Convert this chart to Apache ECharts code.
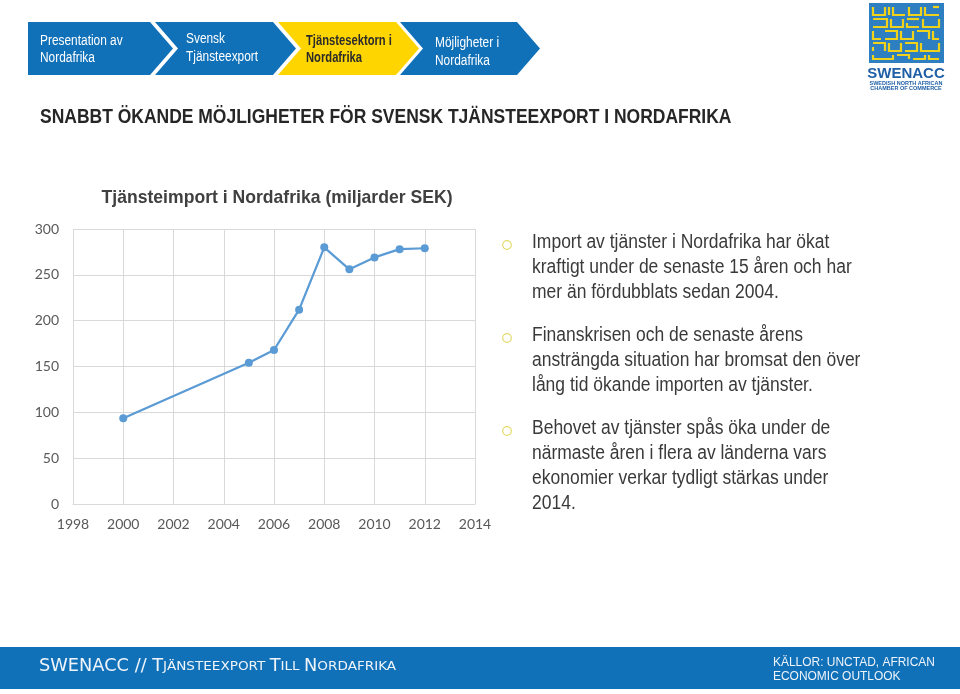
<!DOCTYPE html>
<html>
<head>
<meta charset="utf-8">
<script src="https://cdn.jsdelivr.net/npm/echarts@6/dist/echarts.min.js"></script>
<style>
html,body{margin:0;padding:0;background:#fff;}
#chart{width:960px;height:694px;}
</style>
</head>
<body>
<div id="chart"></div>
<script>
// ---- data ----
const years = [2000, 2005, 2006, 2007, 2008, 2009, 2010, 2011, 2012];
const importValues = [93.5, 154, 168, 212, 280, 256, 269, 278, 279];
const yTicks = [0, 50, 100, 150, 200, 250, 300];
const xTicks = [1998, 2000, 2002, 2004, 2006, 2008, 2010, 2012, 2014];
const chartTitle = 'Tjänsteimport i Nordafrika (miljarder SEK)';
const pageTitle = 'SNABBT ÖKANDE MÖJLIGHETER FÖR SVENSK TJÄNSTEEXPORT I NORDAFRIKA';
const navSteps = [
  ['Presentation av', 'Nordafrika'],
  ['Svensk', 'Tjänsteexport'],
  ['Tjänstesektorn i', 'Nordafrika'],
  ['Möjligheter i', 'Nordafrika']
];
const bullets = [
  ['Import av tjänster i Nordafrika har ökat', 'kraftigt under de senaste 15 åren och har', 'mer än fördubblats sedan 2004.'],
  ['Finanskrisen och de senaste årens', 'ansträngda situation har bromsat den över', 'lång tid ökande importen av tjänster.'],
  ['Behovet av tjänster spås öka under de', 'närmaste åren i flera av länderna vars', 'ekonomier verkar tydligt stärkas under', '2014.']
];
const sourceLines = ['KÄLLOR: UNCTAD, AFRICAN', 'ECONOMIC OUTLOOK'];

const SANS = '"Liberation Sans", Arial, sans-serif';
const BLUE = '#1070b8';
const YELLOW = '#ffd500';

const chart = echarts.init(document.getElementById('chart'), null, {renderer: 'canvas'});

const graphics = [];
function txt(x, y, text, font, fill, sx, align) {
  graphics.push({type: 'text', x: x, y: y, scaleX: sx || 1, silent: true, style: {
    text: text, fill: fill, font: font, textVerticalAlign: 'middle', textAlign: align || 'left'}});
}

// nav chevrons
const chevronDefs = [
  {pts: [[28,22],[150,22],[173,48.5],[150,75],[28,75]], fill: BLUE, tx: 40, ty: [41, 58], color: '#fff', bold: false},
  {pts: [[155,22],[273,22],[296,48.5],[273,75],[155,75],[178,48.5]], fill: BLUE, tx: 186, ty: [39, 57], color: '#fff', bold: false},
  {pts: [[278,22],[396,22],[419,48.5],[396,75],[278,75],[301,48.5]], fill: YELLOW, tx: 306, ty: [41, 58], color: '#2b2b2b', bold: true},
  {pts: [[400,22],[517,22],[540,48.5],[517,75],[400,75],[423,48.5]], fill: BLUE, tx: 435, ty: [43, 61], color: '#fff', bold: false}
];
chevronDefs.forEach((c, i) => {
  graphics.push({type: 'polygon', shape: {points: c.pts}, style: {fill: c.fill}, silent: true});
  navSteps[i].forEach((line, j) => {
    txt(c.tx, c.ty[j], line, (c.bold ? 'bold ' : '') + '14px ' + SANS, c.color, c.bold ? 0.8 : 0.85);
  });
});

// page title
txt(40, 117, pageTitle, 'bold 20px ' + SANS, '#262626', 0.874);

// chart title
txt(277, 198, chartTitle, 'bold 19px ' + SANS, '#404040', 0.926, 'center');

// bullets
const bulletTops = [242, 335, 428];
bullets.forEach((para, i) => {
  graphics.push({type: 'circle', shape: {cx: 507, cy: bulletTops[i] + 3, r: 4.3},
    style: {fill: null, stroke: '#e3da6a', lineWidth: 1.2}, silent: true});
  para.forEach((line, j) => {
    txt(532, bulletTops[i] + j * 25, line, '20px ' + SANS, '#3a3a3a', 0.874);
  });
});

// footer band
graphics.push({type: 'rect', shape: {x: 0, y: 647, width: 960, height: 42}, style: {fill: BLUE}, silent: true});
graphics.push({type: 'text', x: 39, y: 667, scaleX: 1.045, silent: true, style: {
  rich: {
    b: {fontSize: 17, fontFamily: '"DejaVu Sans", sans-serif', fill: '#eef4fa'},
    s: {fontSize: 13, fontFamily: '"DejaVu Sans", sans-serif', fill: '#eef4fa'}
  },
  text: '{b|SWENACC // T}{s|JÄNSTEEXPORT }{b|T}{s|ILL }{b|N}{s|ORDAFRIKA}',
  textVerticalAlign: 'middle', textAlign: 'left'}});
sourceLines.forEach((line, j) => {
  txt(773, 662 + j * 14, line, '13px ' + SANS, '#eef4fa', 0.92);
});

// logo (decorative)
graphics.push({type: 'rect', shape: {x: 869, y: 3, width: 75, height: 60}, style: {fill: '#2d7fc1'}, silent: true});
const kufic = [
  [[873,7],[873,15],[885,15],[885,7]], [[889,7],[889,15]], [[893,7],[893,15],[905,15]], [[909,7],[909,15],[921,15],[921,7]], [[925,7],[925,15],[939,15]], [[933,7],[939,7]],
  [[873,19],[887,19],[887,27],[873,27]], [[891,19],[891,27],[903,27],[903,19]], [[907,19],[919,19]], [[907,23],[907,27],[919,27]], [[923,19],[923,27],[939,27],[939,19]],
  [[873,31],[873,39],[881,39]], [[885,31],[897,31],[897,39],[885,39]], [[901,31],[901,39],[913,39],[913,31]], [[917,31],[929,31],[929,39]], [[933,31],[933,39],[939,39]],
  [[873,43],[885,43],[885,51]], [[873,47],[873,51]], [[889,43],[889,51],[901,51],[901,43]], [[905,43],[917,43],[917,51],[905,51]], [[921,43],[921,51],[939,51],[939,43]],
  [[873,55],[873,59],[893,59],[893,55]], [[897,55],[909,55],[909,59]], [[913,59],[925,59],[925,55]], [[929,55],[929,59],[939,59]]
];
kufic.forEach(p => graphics.push({type: 'polyline', shape: {points: p}, style: {stroke: '#f0d21a', lineWidth: 2.2, fill: null}, silent: true}));
txt(906, 74, 'SWENACC', 'bold 15px ' + SANS, '#1f5fa6', 1, 'center');
txt(906, 83, 'SWEDISH NORTH AFRICAN', 'bold 5.5px ' + SANS, '#1f5fa6', 1, 'center');
txt(906, 88, 'CHAMBER OF COMMERCE', 'bold 5.5px ' + SANS, '#1f5fa6', 1, 'center');

const axisLabelStyle = {color: '#595959', fontSize: 14, fontFamily: 'Lato, "Open Sans", sans-serif'};

chart.setOption({
  animation: false,
  backgroundColor: '#fff',
  grid: {left: 73, right: 485, top: 229, bottom: 190, containLabel: false},
  xAxis: {
    type: 'value', min: xTicks[0], max: xTicks[xTicks.length - 1], interval: 2,
    axisLine: {show: true, lineStyle: {color: '#d9d9d9', width: 1}},
    axisTick: {show: false},
    splitLine: {show: true, lineStyle: {color: '#d9d9d9', width: 1}},
    axisLabel: Object.assign({margin: 13, formatter: v => String(v)}, axisLabelStyle)
  },
  yAxis: {
    type: 'value', min: yTicks[0], max: yTicks[yTicks.length - 1], interval: 50,
    axisLine: {show: false}, axisTick: {show: false},
    splitLine: {show: true, lineStyle: {color: '#d9d9d9', width: 1}},
    axisLabel: Object.assign({margin: 14}, axisLabelStyle)
  },
  series: [{
    type: 'line',
    data: years.map((y, i) => [y, importValues[i]]),
    symbol: 'circle', symbolSize: 8,
    lineStyle: {color: '#5b9bd5', width: 2.25},
    itemStyle: {color: '#5b9bd5'}
  }],
  graphic: graphics
});
</script>
</body>
</html>
